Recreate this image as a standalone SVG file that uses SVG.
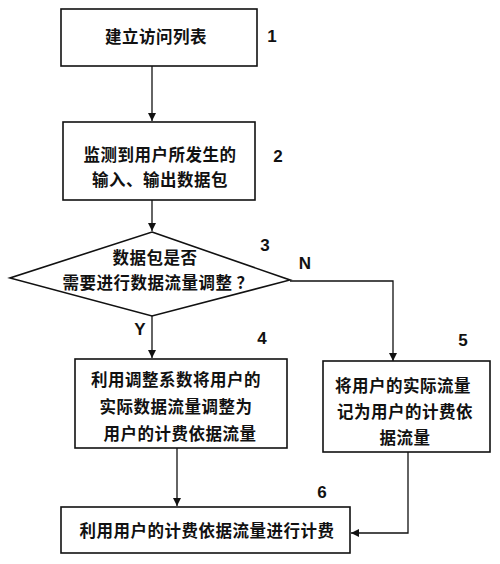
<svg xmlns="http://www.w3.org/2000/svg" width="500" height="564" viewBox="0 0 500 564">
<defs>
<marker id="ah" viewBox="0 0 10 10" refX="10" refY="5" markerWidth="8" markerHeight="8" markerUnits="userSpaceOnUse" orient="auto"><path d="M0,0 L10,5 L0,10 z" fill="#111"/></marker>
</defs>
<style>
.box{fill:#fff;stroke:#111;stroke-width:1.6}
.t{font-family:"Noto Sans CJK SC","Noto Sans",sans-serif;font-size:16.5px;font-weight:bold;fill:#111;text-anchor:middle;letter-spacing:0.5px}
.n{font-family:"Liberation Sans",Arial,sans-serif;font-size:17px;font-weight:bold;fill:#111;text-anchor:middle}
.c{fill:none;stroke:#111;stroke-width:1.3}
</style>
<rect width="500" height="564" fill="#fff"/>
<g id="connectors">
<line class="c" x1="152" y1="66" x2="152" y2="121" marker-end="url(#ah)"/>
<line class="c" x1="152" y1="200" x2="152" y2="231" marker-end="url(#ah)"/>
<line class="c" x1="152" y1="316" x2="152" y2="358" marker-end="url(#ah)"/>
<polyline class="c" points="290,281 393,281 393,361" marker-end="url(#ah)"/>
<line class="c" x1="177" y1="448" x2="177" y2="506" marker-end="url(#ah)"/>
<polyline class="c" points="408,452 408,533 351,533" marker-end="url(#ah)"/>
<text class="n" x="305" y="269">N</text>
<text class="n" x="140" y="335">Y</text>
</g>
<g id="node1">
<rect class="box" x="61" y="9" width="196" height="57"/>
<text class="t" x="156" y="43">建立访问列表</text>
<text class="n" x="272" y="42">1</text>
</g>
<g id="node2">
<rect class="box" x="63" y="122" width="192" height="78"/>
<text class="t" x="160" y="161">监测到用户所发生的</text>
<text class="t" x="160" y="186">输入、输出数据包</text>
<text class="n" x="278" y="162">2</text>
</g>
<g id="node3">
<polygon class="box" points="152,232 290,280 152,316 10,278"/>
<text class="t" x="155" y="264">数据包是否</text>
<text class="t" x="158" y="289">需要进行数据流量调整 ？</text>
<text class="n" x="265" y="251">3</text>
</g>
<g id="node4">
<rect class="box" x="75" y="359" width="212" height="89"/>
<text class="t" x="176" y="386">利用调整系数将用户的</text>
<text class="t" x="176" y="413">实际数据流量调整为</text>
<text class="t" x="180" y="440">用户的计费依据流量</text>
<text class="n" x="262" y="344">4</text>
</g>
<g id="node5">
<rect class="box" x="323" y="361" width="167" height="91"/>
<text class="t" x="403" y="392">将用户的实际流量</text>
<text class="t" x="405" y="418">记为用户的计费依</text>
<text class="t" x="405" y="444">据流量</text>
<text class="n" x="463" y="346">5</text>
</g>
<g id="node6">
<rect class="box" x="61" y="507" width="289" height="46"/>
<text class="t" x="207" y="537">利用用户的计费依据流量进行计费</text>
<text class="n" x="322" y="498">6</text>
</g>
</svg>
